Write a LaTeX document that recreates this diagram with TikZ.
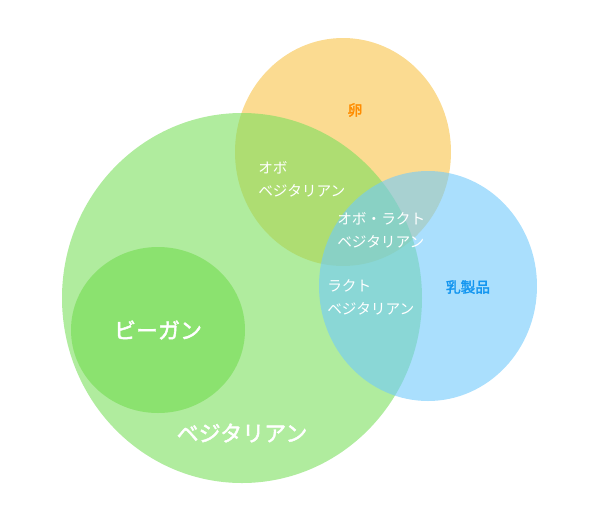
\documentclass[tikz,border=0pt]{standalone}
\usepackage{fontspec}
\usepackage{tikz}
\newfontfamily\jpfont{Noto Sans CJK JP}
\newfontfamily\jpbold{Noto Sans CJK JP}[FakeBold=2]

\definecolor{vegGreen}{RGB}{123,223,93}
\definecolor{veganGreen}{RGB}{139,226,111}
\definecolor{eggOrange}{RGB}{248,195,72}
\definecolor{milkBlue}{RGB}{113,202,252}
\definecolor{eggText}{RGB}{255,140,0}
\definecolor{milkText}{RGB}{20,150,240}

\tikzset{
  small label/.style={anchor=north west,inner sep=0.75pt,text=white,align=left,font=\fontsize{11}{17.3}\jpfont},
  big label/.style={inner sep=0.75pt,text=white,font=\fontsize{16.5}{20}\jpbold},
}

\begin{document}
\begin{tikzpicture}[x=0.75pt,y=0.75pt,yscale=-1,xscale=1]
\useasboundingbox (0,0) rectangle (600,519);

%Shape: Circle [egg]
\fill [eggOrange,fill opacity=0.6] (343,152) ellipse [x radius=108,y radius=114];
%Shape: Circle [vegetarian]
\fill [vegGreen,fill opacity=0.6] (242,298) ellipse [x radius=180,y radius=185];
%Shape: Circle [vegan]
\fill [veganGreen] (158,330) ellipse [x radius=87,y radius=83];
%Shape: Circle [dairy]
\fill [milkBlue,fill opacity=0.6] (428,286) ellipse [x radius=109,y radius=115];

% Text Node
\node (egg) at (355,110) [inner sep=0.75pt,text=eggText,font=\fontsize{11}{13}\jpbold] {卵};
% Text Node
\node (dairy) at (468,287) [inner sep=0.75pt,text=milkText,font=\fontsize{11}{13}\jpbold] {乳製品};
% Text Node
\node (ovo) at (257,160) [small label] {オボ\\ベジタリアン};
% Text Node
\node (ovolacto) at (336,211) [small label] {オボ・ラクト\\ベジタリアン};
% Text Node
\node (lacto) at (326,278) [small label] {ラクト\\ベジタリアン};
% Text Node
\node (vegan) at (158,330) [big label] {ビーガン};
% Text Node
\node (vegetarian) at (242,433) [big label] {ベジタリアン};
\end{tikzpicture}
\end{document}
